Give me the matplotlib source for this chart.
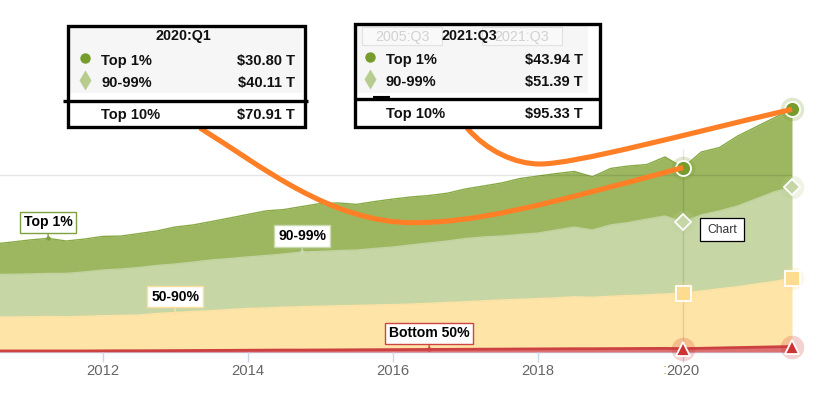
import numpy as np
import matplotlib
matplotlib.use("Agg")
import matplotlib.pyplot as plt
from matplotlib.patches import Rectangle, PathPatch
from matplotlib.path import Path

plt.rcParams['font.family'] = ['Liberation Sans', 'DejaVu Sans']

# ---------------- data (trillions of dollars) ----------------
quarters = [f"{y}:Q{q}" for y in range(2010, 2022) for q in range(1, 5)][2:47]  # 2010:Q3 .. 2021:Q3

top1 = [17.2, 18.2, 19.2, 19.8, 18.3, 18.6, 19.0, 18.6, 19.2, 19.5,
        20.9, 21.0, 21.7, 22.9, 24.0, 25.2, 25.1, 25.7, 27.1, 26.9,
        25.8, 26.5, 27.1, 27.1, 26.8, 27.0, 28.0, 28.8, 30.0, 31.6,
        32.2, 31.9, 31.4, 30.1, 31.9, 31.9, 30.8, 33.4, 30.80, 35.6,
        35.8, 39.5, 40.7, 41.8, 43.94]
p90_99 = [24.0, 24.1, 24.2, 24.3, 24.5, 25.0, 25.8, 26.2, 26.8, 27.1,
          27.4, 27.9, 28.6, 28.8, 29.1, 29.6, 30.1, 30.9, 30.9, 31.2,
          31.3, 31.9, 32.5, 33.4, 34.1, 34.7, 35.7, 36.1, 36.1, 36.6,
          37.0, 38.3, 39.4, 38.0, 40.3, 41.3, 42.8, 44.0, 40.11, 42.9,
          44.0, 45.6, 48.0, 50.6, 51.39]
p50_90 = [19.2, 19.2, 19.3, 19.5, 19.3, 19.6, 19.85, 20.0, 20.2, 21.05,
          21.5, 22.05, 22.5, 23.05, 23.6, 23.85, 24.2, 24.5, 24.75, 24.9,
          25.05, 25.3, 25.45, 25.7, 26.05, 26.5, 26.85, 27.3, 27.75, 28.1,
          28.45, 28.8, 29.35, 29.05, 29.6, 29.95, 30.3, 30.75, 31.4, 32.4,
          33.4, 34.4, 35.7, 36.9, 38.7]
bottom50 = [0.6, 0.6, 0.6, 0.6, 0.6, 0.6, 0.65, 0.7, 0.7, 0.75,
            0.8, 0.85, 0.9, 0.95, 1.0, 1.05, 1.1, 1.1, 1.15, 1.2,
            1.25, 1.3, 1.35, 1.4, 1.45, 1.5, 1.55, 1.6, 1.65, 1.7,
            1.75, 1.8, 1.85, 1.85, 1.9, 1.95, 2.0, 2.05, 1.9, 2.1,
            2.3, 2.5, 2.7, 2.9, 3.1]

tick_labels = ["2012", "2014", "2016", "2018", "2020"]
series_names = ["Top 1%", "90-99%", "50-90%", "Bottom 50%"]
tooltip_quarters = ["2020:Q1", "2021:Q3"]
label_quarters = ["2011:Q2", "2014:Q4", "2013:Q1", "2016:Q3"]

# ---------------- helpers ----------------
def qpos(label):
    y, q = label.split(":Q")
    return int(y) + (int(q) - 1) / 4.0

x = np.array([qpos(q) for q in quarters])
b0 = np.array(bottom50)
b1 = b0 + np.array(p50_90)
b2 = b1 + np.array(p90_99)
b3 = b2 + np.array(top1)

W, H = 818, 399
fig = plt.figure(figsize=(W / 100, H / 100), dpi=100)
ax = fig.add_axes([0, (H - 352) / H, 792 / W, 352 / H])
ax.set_xlim(2010.587, 2021.5)
ax.set_ylim(0, 352 / 1.77)

def P(px, py):
    return (px / W, 1 - py / H)

# colours
c_top1 = '#9cb760'
c_top1_line = '#88aa45'
c_9099 = '#c6d6a5'
c_5090 = '#fee4a7'
c_red = '#cc4141'
m_top1 = '#769c2c'
m_9099 = '#b7cd90'
m_5090 = '#fddc8f'
m_red = '#cc3333'
orange = '#ff7f27'

# areas
ax.fill_between(x, 0, b0, color='#dd7070', lw=0, zorder=1)
ax.fill_between(x, b0, b1, color=c_5090, lw=0, zorder=1)
ax.fill_between(x, b1, b2, color=c_9099, lw=0, zorder=1)
ax.fill_between(x, b2, b3, color=c_top1, lw=0, zorder=1)
ax.plot(x, b3, color=c_top1_line, lw=1, zorder=2)
ax.plot(x, b2, color='#c2d3a0', lw=1, zorder=2)
ax.plot(x, b1, color='#fde2a2', lw=1, zorder=2)
ax.plot(x, b0, color=c_red, lw=2, zorder=2, solid_capstyle='butt')

# grid line
ax.axhline(100, color=(0, 0, 0, 0.10), lw=1, zorder=3)

# crosshairs
ymax = ax.get_ylim()[1]
i20 = quarters.index(tooltip_quarters[0])
i21 = quarters.index(tooltip_quarters[1])
ax.axvline(x[i20], ymin=0, ymax=((352 - 150) / 1.77) / ymax, color=(0, 0, 0, 0.10), lw=1, zorder=3)
ax.axvline(x[i21], ymin=b3[i21] / ymax, ymax=((352 - 97) / 1.77) / ymax, color=(0, 0, 0, 0.12), lw=1, zorder=3)

# axes styling
for s in ['top', 'left', 'right']:
    ax.spines[s].set_visible(False)
ax.spines['bottom'].set_color('#ccd6eb')
ax.spines['bottom'].set_linewidth(1)
ax.spines['bottom'].set_zorder(0.5)
ax.set_xticks([int(t) for t in tick_labels])
ax.set_xticklabels(tick_labels)
ax.tick_params(axis='x', length=7.5, width=1, color='#ccd6eb', labelcolor='#666666',
               labelsize=10.6, pad=1.2)
ax.set_yticks([])
ax.text(x[i20] - 0.25, -10.3, ":", color='#e0a030', fontsize=10.6, ha='center', va='center')

# data labels
lab_colors = ['#7ea140', '#cbdaae', '#fde0a0', '#cc4444']
lab_tops = [b3, b2, b1, b0]
for name, q, col, top in zip(series_names, label_quarters, lab_colors, lab_tops):
    i = quarters.index(q)
    ax.annotate(name, xy=(x[i], top[i]), xytext=(0, 11.5), textcoords='offset points',
                ha='center', va='center', fontsize=10.1, fontweight='bold', color='black',
                bbox=dict(boxstyle='square,pad=0.27', fc='white', ec=col, lw=1),
                arrowprops=dict(arrowstyle='-', color=col, lw=1, shrinkA=0, shrinkB=0),
                zorder=6)
    ax.plot(x[i], top[i], 'o', ms=2.2, color=col, zorder=6)

# orange connector curves (drawn in image pixel coordinates, ending at the data points)
def to_img(xv, yv):
    d = ax.transData.transform((xv, yv))
    return d[0], H - d[1]

e1 = to_img(x[i20], b3[i20])
e2 = to_img(x[i21], b3[i21])
curve1 = [(200, 128), (260, 165), (330, 222.7), (413, 222.7),
          (473, 222.7), (532, 208.5), e1]
curve2 = [(467, 128), (487, 151), (515, 164), (540, 164),
          (575, 164), (682, 135), e2]
codes = [Path.MOVETO] + [Path.CURVE4] * 6
for c in (curve1, curve2):
    path = Path([P(*p) for p in c], codes)
    fig.add_artist(PathPatch(path, transform=fig.transFigure, fill=False,
                             ec=orange, lw=3.7, zorder=7))

# hover markers with halos
marker_specs = [
    (b3, 'o', m_top1, 10.8, m_top1),
    (b2, 'D', c_9099, 8.6, m_9099),
    (b1, 's', m_5090, 10.8, m_5090),
    (b0, '^', m_red, 10.2, m_red),
]
for top, mk, fc, ms, hc in marker_specs:
    for i in (i20, i21):
        ax.plot(x[i], top[i], 'o', ms=17, color=hc, alpha=0.22, mec='none', zorder=8, clip_on=False)
        ax.plot(x[i], top[i], mk, ms=ms, mfc=fc, mec='white', mew=1.3, zorder=9, clip_on=False)

# ---------------- tooltip boxes ----------------
def rect(x0, y0, x1, y1, fc='none', ec='none', lw=0.0, z=10):
    a = P(x0, y1)
    r = Rectangle(a, (x1 - x0) / W, (y1 - y0) / H, transform=fig.transFigure,
                  fc=fc, ec=ec, lw=lw, zorder=z)
    fig.add_artist(r)

def hline(x0, x1, y, lw=2.4, z=12):
    fig.add_artist(plt.Line2D([x0 / W, x1 / W], [1 - y / H, 1 - y / H], transform=fig.transFigure,
                              color='black', lw=lw, zorder=z, solid_capstyle='butt'))

def ftext(px, py, s, **kw):
    kw.setdefault('fontsize', 10.5)
    kw.setdefault('fontweight', 'bold')
    kw.setdefault('color', '#111111')
    kw.setdefault('va', 'center')
    fig.text(px / W, 1 - py / H, s, zorder=13, **kw)

def fmark(px, py, mk, col, ms):
    fig.add_artist(plt.Line2D([px / W], [1 - py / H], marker=mk, ms=ms, color=col,
                              mec='none', transform=fig.transFigure, zorder=13))

boxes = [
    dict(x0=68, x1=305, y0=26, y1=127, sep=101, sx0=63, sx1=308, cx=183, lx=101, rx=295,
         mx=85, rows=(61, 83, 115), i=i20, gx1=302),
    dict(x0=355, x1=600, y0=24, y1=127, sep=99, sx0=355, sx1=600, cx=469, lx=386, rx=583,
         mx=370, rows=(60, 82, 114), i=i21, gx1=588),
]
for k, bx in enumerate(boxes):
    i = bx['i']
    rect(bx['x0'], bx['y0'], bx['x1'], bx['y1'], fc='white', z=10)
    rect(bx['x0'] + 2, bx['y0'] + 2, bx['gx1'], 93, fc='#f6f6f6', z=10.5)
    if k == 1:
        rect(362, 27, 442, 45, fc='#f9f9f9', ec='#e2e2e2', lw=0.8, z=10.6)
        rect(482, 27, 562, 45, fc='#f9f9f9', ec='#e2e2e2', lw=0.8, z=10.6)
        ftext(402, 37, "2005:Q3", fontweight='normal', color='#d2d2d2', ha='center', fontsize=10.3)
        ftext(522, 37, quarters[i21], fontweight='normal', color='#d2d2d2', ha='center', fontsize=10.3)
        hline(373, 390, 97, lw=1.5)
    rect(bx['x0'], bx['y0'], bx['x1'], bx['y1'], ec='black', lw=2.4, z=12)
    hline(bx['sx0'], bx['sx1'], bx['sep'])
    r1, r2, r3 = bx['rows']
    ftext(bx['cx'], 36, quarters[i], ha='center', fontsize=10.3)
    fmark(bx['mx'], r1 - 3, 'o', m_top1, 7.5)
    fmark(bx['mx'], r2 - 3, 'd', m_9099, 10)
    ftext(bx['lx'], r1, series_names[0], ha='left')
    ftext(bx['rx'], r1, f"${top1[i]:.2f} T", ha='right')
    ftext(bx['lx'], r2, series_names[1], ha='left')
    ftext(bx['rx'], r2, f"${p90_99[i]:.2f} T", ha='right')
    ftext(bx['lx'], r3, "Top 10%", ha='left')
    ftext(bx['rx'], r3, f"${top1[i] + p90_99[i]:.2f} T", ha='right')

# small "Chart" tooltip
rect(700, 218, 744, 241, fc='white', ec='black', lw=0.9, z=12)
ftext(722, 230, "Chart", ha='center', fontweight='normal', color='#333333', fontsize=8.7)

fig.savefig("out.png", dpi=100)
